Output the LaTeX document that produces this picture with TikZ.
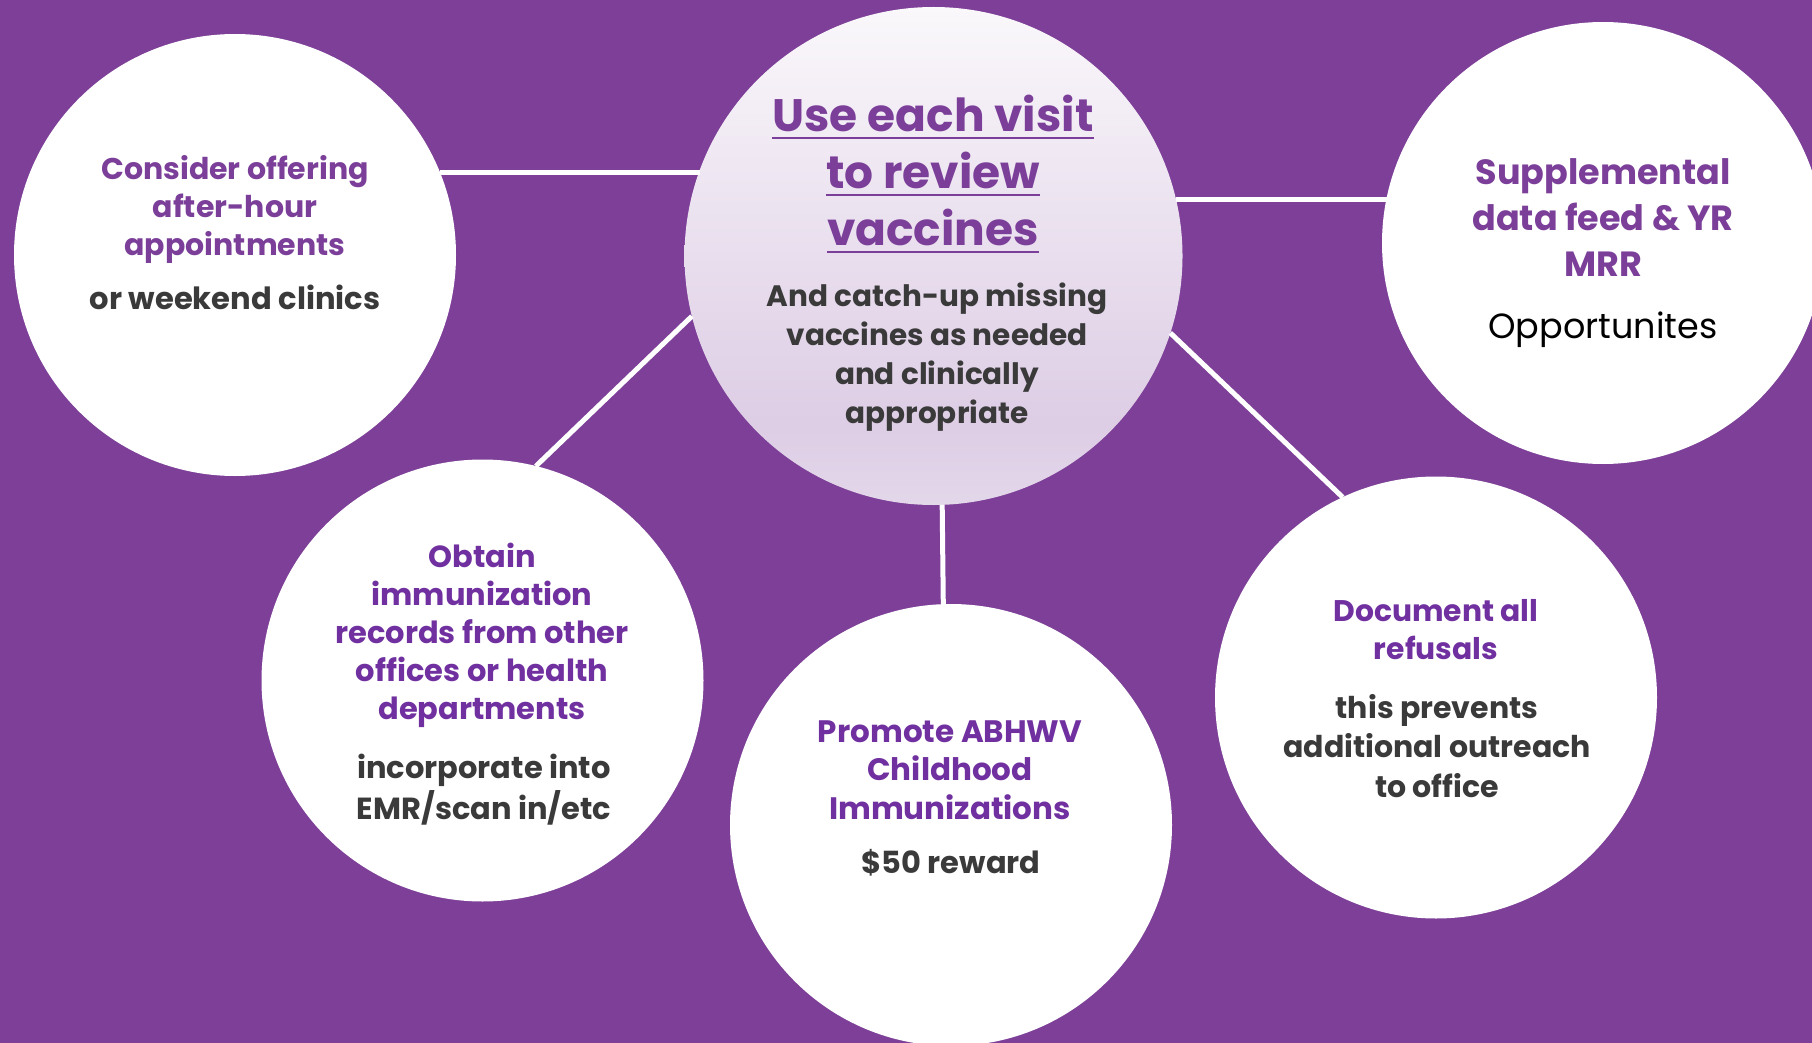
\documentclass[tikz,border=0pt]{standalone}
\usepackage{fontspec}
\setmainfont{Poppins}
\newsavebox\ulbox
\newcommand\myul[1]{\sbox\ulbox{#1}\rlap{\rule[-7.6pt]{\wd\ulbox}{2.2pt}}\usebox\ulbox}
\definecolor{bgpurple}{RGB}{125,63,152}
\definecolor{titlepurple}{RGB}{123,63,153}
\definecolor{brightpurple}{RGB}{112,48,160}
\definecolor{darktext}{RGB}{58,58,58}
\definecolor{cgtop}{RGB}{250,248,251}
\definecolor{cgmidtop}{RGB}{236,227,240}
\definecolor{cgmid}{RGB}{221,205,229}
\definecolor{cgbot}{RGB}{227,215,234}
\pgfdeclareverticalshading{centreshade}{100bp}{color(0bp)=(cgbot); color(25bp)=(cgbot); color(33bp)=(cgmid); color(55bp)=(cgmidtop); color(75bp)=(cgtop); color(100bp)=(cgtop)}
\tikzset{
  bubble/.style={circle, fill=white, minimum size=442pt, inner sep=0pt, outer sep=0pt},
  hub/.style={circle, shading=centreshade, minimum size=498pt, inner sep=0pt, outer sep=0pt},
  link/.style={draw=white, line width=5pt},
  txt/.style={align=center, inner sep=0pt, outer sep=0pt, anchor=north},
  headA/.style={txt, text=titlepurple, font=\bfseries\fontsize{30}{38}\selectfont},
  headB/.style={txt, text=brightpurple, font=\bfseries\fontsize{30}{38}\selectfont},
  body/.style={txt, text=darktext, font=\bfseries\fontsize{30}{40}\selectfont},
}
\begin{document}
\begin{tikzpicture}[x=1pt, y=-1pt]
\useasboundingbox (0,0) rectangle (1812,1043);
\clip (0,0) rectangle (1812,1043);
\fill[bgpurple] (0,0) rectangle (1812,1043);

% circles
\node[hub] (hub) at (933.5,256) {};
\node[bubble] (tl) at (235,255) {};
\node[bubble] (tr) at (1603,243) {};
\node[bubble] (bl) at (482.5,680.5) {};
\node[bubble] (bm) at (951,825) {};
\node[bubble] (br) at (1436,697.5) {};

% connectors
\draw[link] (tl.22) -- (hub.160.77 |- tl.22);
\draw[link] (hub.13.0) -- (tr.168.73 |- hub.13.0);
\draw[link] (hub.194.1) -- (bl.76.8);
\draw[link] (hub.272.2) -- (bm.92.1);
\draw[link] (hub.342.3) -- (br.115.9);

% centre texts
\node[txt, text=titlepurple, font=\bfseries\fontsize{45.5}{57}\selectfont] (hubhead) at (933,95)
  {\myul{Use each visit}\\\myul{to review}\\\myul{vaccines}};
\node[txt, text=darktext, font=\bfseries\fontsize{29.5}{39}\selectfont] (hubbody) at (937,282.5)
  {And catch-up missing\\vaccines as needed\\and clinically\\appropriate};

% top left
\node[headA] (tlhead) at (235,155)
  {Consider offering\\after-hour\\appointments};
\node[body, font=\bfseries\fontsize{30.6}{40}\selectfont] (tlbody) at (235,285) {or weekend clinics};

% top right
\node[headA, font=\bfseries\fontsize{35}{46}\selectfont] (trhead) at (1603,159)
  {Supplemental\\data feed \& YR\\MRR};
\node[txt, text=black, font=\mdseries\fontsize{35}{44}\selectfont] (trbody) at (1603,312) {Opportunites};

% bottom left
\node[headB, font=\bfseries\fontsize{30.5}{38}\selectfont] (blhead) at (482,543)
  {Obtain\\immunization\\records from other\\offices or health\\departments};
\node[body, font=\bfseries\fontsize{30.5}{41}\selectfont] (blbody) at (484,754)
  {incorporate into\\EMR/scan in/etc};

% bottom middle
\node[headB, font=\bfseries\fontsize{31}{38.5}\selectfont] (bmhead) at (950,720.5)
  {Promote ABHWV\\Childhood\\Immunizations};
\node[body, font=\bfseries\fontsize{30.5}{40}\selectfont] (bmbody) at (951,849) {\$50 reward};

% bottom right
\node[headB, font=\bfseries\fontsize{29.8}{38}\selectfont] (brhead) at (1436,599.3) {Document all\\refusals};
\node[body, font=\bfseries\fontsize{30}{39.5}\selectfont] (brbody) at (1437,694)
  {this prevents\\additional outreach\\to office};
\end{tikzpicture}
\end{document}
